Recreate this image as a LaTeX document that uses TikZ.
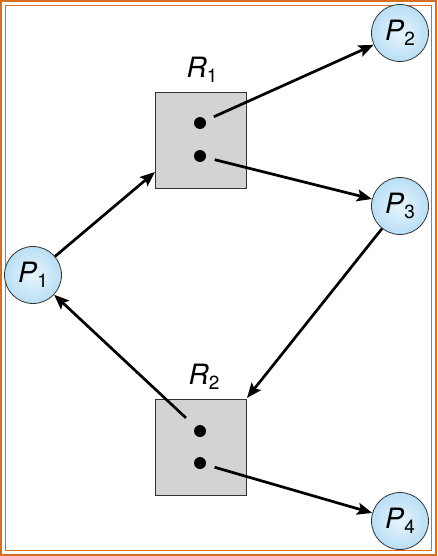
\documentclass[tikz,border=0pt]{standalone}
\usepackage{fontspec}
\setmainfont{TeX Gyre Heros}
\usetikzlibrary{arrows.meta}
\definecolor{frameor}{RGB}{214,110,30}
\definecolor{boxgray}{RGB}{210,211,213}
\definecolor{procin}{RGB}{232,245,253}
\definecolor{procout}{RGB}{185,222,245}
\tikzset{
  proc/.style={circle, draw=black!80, line width=0.8pt, minimum size=57pt, inner sep=0pt,
    inner color=procin, outer color=procout, font=\fontsize{28}{30}\selectfont},
  res/.style={rectangle, draw=black!80, line width=0.8pt, fill=boxgray, minimum width=91pt, minimum height=96pt, inner sep=0pt},
  dot/.style={circle, fill=black, minimum size=12pt, inner sep=0pt},
  lbl/.style={font=\fontsize{28}{30}\selectfont},
  edge/.style={line width=2.7pt, -{Stealth[length=15pt,width=12pt,inset=3pt]}},
}
\newcommand{\pname}[1]{\textit{P}\raisebox{-0.35ex}{\fontsize{19}{20}\selectfont #1}}
\newcommand{\rname}[1]{\textit{R}\raisebox{-0.35ex}{\fontsize{19}{20}\selectfont #1}}
\begin{document}
\begin{tikzpicture}[x=1pt,y=-1pt]
\useasboundingbox (0,0) rectangle (437,556);
\draw[frameor, line width=2pt] (1,1) rectangle (436,555);
\draw[frameor, line width=1.6pt] (5.5,5.5) rectangle (431.5,550.5);
\node[res] (R1) at (200.5,140) {};
\node[res] (R2) at (200.5,447) {};
\node[lbl] (L1) at (202,70) {\rname{1}};
\node[lbl] (L2) at (204,377) {\rname{2}};
\node[dot] (d1) at (200,123) {};
\node[dot] (d2) at (200,156) {};
\node[dot] (d3) at (200,431) {};
\node[dot] (d4) at (200,463) {};
\node[proc] (P1) at (33,275) {\pname{1}};
\node[proc] (P2) at (400,33) {\pname{2}};
\node[proc] (P3) at (400,206) {\pname{3}};
\node[proc] (P4) at (400,521) {\pname{4}};
\coordinate (r1in) at (155,172);
\coordinate (r2in) at (247,398);
\draw[edge] (P1) -- (r1in);
\draw[edge, shorten <=9pt] (d1) -- (P2);
\draw[edge, shorten <=9pt] (d2) -- (P3);
\draw[edge] (P3) -- (r2in);
\draw[edge, shorten <=13pt] (d3) -- (P1);
\draw[edge, shorten <=9pt] (d4) -- (P4);
\end{tikzpicture}
\end{document}
